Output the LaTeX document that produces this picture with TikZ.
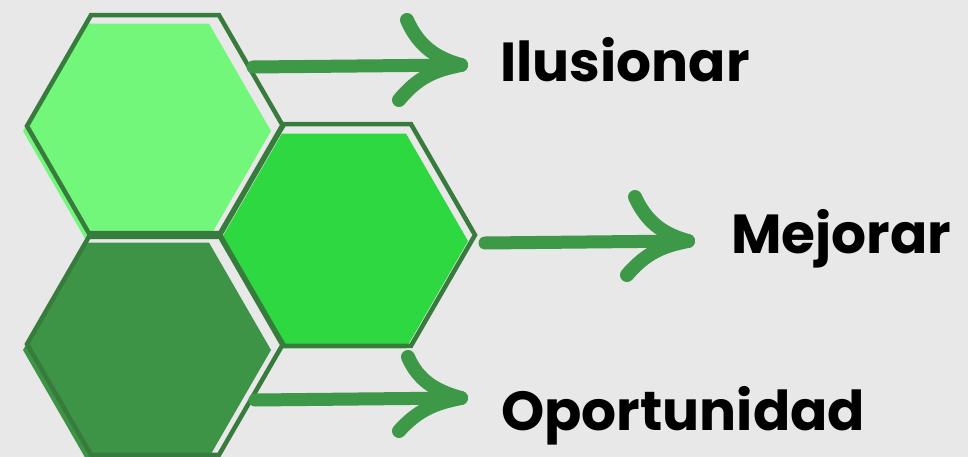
\documentclass[tikz,border=0pt]{standalone}
\usepackage{fontspec}
\setmainfont{Poppins}
\usetikzlibrary{shapes.geometric}
\definecolor{bgc}{HTML}{E8E8E8}
\definecolor{lightg}{HTML}{72F77B}
\definecolor{midg}{HTML}{2ED840}
\definecolor{darkg}{HTML}{3D9447}
\definecolor{edgeg}{HTML}{387C3D}
\definecolor{arrowg}{HTML}{3D9848}
\tikzset{
  hexfill/.style={regular polygon, regular polygon sides=6, inner sep=0pt, outer sep=0pt, minimum size=248pt, draw=none},
  hexedge/.style={regular polygon, regular polygon sides=6, inner sep=0pt, outer sep=0pt, minimum size=256pt, draw=edgeg, line width=4.5pt},
  shaft/.style={draw=arrowg, line width=13pt, line cap=round, line join=round},
  barb/.style={draw=arrowg, line width=14pt, line cap=round, line join=round},
  lbl/.style={anchor=base west, inner sep=0pt, font=\fontsize{55}{60}\selectfont\bfseries, text=black}
}
\begin{document}
\begin{tikzpicture}[x=1pt,y=-1pt]
\fill[bgc] (0,0) rectangle (968,457);
\useasboundingbox (0,0) rectangle (968,457);
% fills
\node[hexfill, fill=lightg] (f1) at (147,131) {};
\node[hexfill, fill=midg] (f2) at (344,241) {};
\node[hexfill, fill=darkg] (f3) at (147,350) {};
% outlines
\node[hexedge] (h1) at (155,126) {};
\node[hexedge] (h2) at (347,235) {};
\node[hexedge] (h3) at (155,344) {};
% labels
\node[lbl] (t1) at (500,82) {Ilusionar};
\node[lbl] (t2) at (731,253) {Mejorar};
\node[lbl] (t3) at (501,430) {Oportunidad};
% arrows
\coordinate (a1s) at (253,67); \coordinate (a1t) at (461,65);
\coordinate (a1u) at (407,20); \coordinate (a1l) at (399,100);
\draw[shaft] (a1s) -- (a1t);
\draw[barb] (a1u) .. controls (418,45) and (435,58) .. (a1t);
\draw[barb] (a1l) .. controls (418,77) and (435,70) .. (a1t);
\coordinate (a2s) at (485,243); \coordinate (a2t) at (688,241);
\coordinate (a2u) at (635,197); \coordinate (a2l) at (627,275);
\draw[shaft] (a2s) -- (a2t);
\draw[barb] (a2u) .. controls (646,221) and (662,234) .. (a2t);
\draw[barb] (a2l) .. controls (646,253) and (662,246) .. (a2t);
\coordinate (a3s) at (255,400); \coordinate (a3t) at (461,398);
\coordinate (a3u) at (408,357); \coordinate (a3l) at (399,431);
\draw[shaft] (a3s) -- (a3t);
\draw[barb] (a3u) .. controls (418,380) and (435,391) .. (a3t);
\draw[barb] (a3l) .. controls (418,410) and (435,403) .. (a3t);
\end{tikzpicture}
\end{document}
